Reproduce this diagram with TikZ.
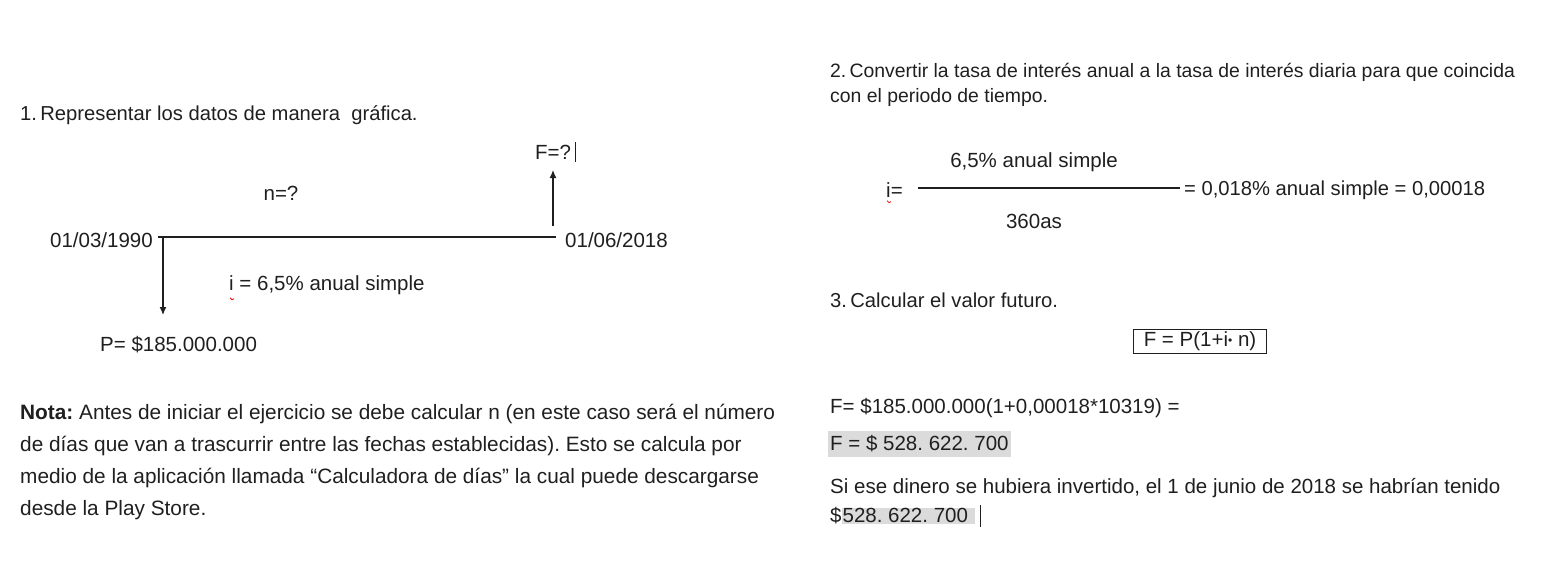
\documentclass[tikz,border=0pt]{standalone}
\usepackage{fontspec}
\setmainfont{Liberation Sans}
\usepackage{xcolor}
\usetikzlibrary{arrows, arrows.meta, positioning, calc}
\definecolor{inktext}{gray}{0.12}
\definecolor{markgray}{gray}{0.86}
\frenchspacing
\setlength{\fboxsep}{1pt}
\tikzstyle{arrow} = [line width=1.3pt,-{Latex[length=8pt,width=7pt]}]
\tikzstyle{txt} = [anchor=west, inner sep=0pt, text=inktext, font=\fontsize{20.5}{24}\selectfont]
\tikzstyle{small} = [anchor=west, inner sep=0pt, text=inktext, font=\fontsize{20.2}{25}\selectfont]

\begin{document}
\begin{tikzpicture}[x=1pt, y=-1pt]
\useasboundingbox (0,0) rectangle (1550,578);

% 1. grafica
\node[small] (title1) at (20,115) {1.\,Representar los datos de manera\ \ gráfica.};
\node[txt] (d1) [anchor=east] at (153,240) {01/03/1990};
\node[txt] (d2) at (565,240) {01/06/2018};
\coordinate (t0) at (158,237);
\coordinate (t1) at (556,237);
\draw[inktext, line width=1.3pt] (t0) -- (t1);
\node[txt] (fval) at (535,152) {F=?};
\draw[inktext] ($(fval.east)+(4,-10)$) -- ($(fval.east)+(4,10)$);
\coordinate (fup) at (553,226);
\draw[arrow, inktext] (fup) -- (553,170);
\node[txt] (nlbl) [anchor=center] at (281,193) {n=?};
\draw[arrow, inktext] ($(t0)+(5,0)$) -- (163,315);
\node[txt] (ilbl) at (229,285) {i = 6,5\% anual simple};
\draw[red, thick] ($(ilbl.south west)+(1,3)$) -- ++(2,2) -- ++(2,-1);
\node[txt] (plbl) at (100,345) {P= \$185.000.000};

% nota
\node[txt, align=left, font=\fontsize{20.8}{32}\selectfont] (nota) at (20,462)
  {\textbf{Nota:} Antes de iniciar el ejercicio se debe calcular n (en este caso será el número\\
   de días que van a trascurrir entre las fechas establecidas). Esto se calcula por\\
   medio de la aplicación llamada “Calculadora de días” la cual puede descargarse\\
   desde la Play Store.};

% 2. tasa diaria
\node[small, align=left, font=\fontsize{19.4}{25}\selectfont] (title2) at (830,85)
  {2.\,Convertir la tasa de interés anual a la tasa de interés diaria para que coincida\\
   con el periodo de tiempo.};
\node[txt] (ieq) at (886,190) {i=};
\draw[red, thick] ($(ieq.south west)+(1,3)$) -- ++(2,2) -- ++(2,-1);
\coordinate (fr0) at (918,188);
\coordinate (fr1) at (1180,188);
\draw[inktext, line width=1.6pt] (fr0) -- (fr1);
\node[txt] (num) [anchor=center] at (1034,162) {6,5\% anual simple};
\node[txt] (den) [anchor=center] at (1034,221) {360as};
\node[small] (res) at (1184,190) {= 0,018\% anual simple = 0,00018};

% 3. valor futuro
\node[small] (title3) at (830,300) {3.\,Calcular el valor futuro.};
\node[txt, draw=inktext, thick, inner xsep=10pt, minimum height=24pt, anchor=center] (formula) at (1200,341) {F = P(1+i\raisebox{2pt}{\fontsize{12}{12}\selectfont•} n)};
\node[txt] (calc) at (830,408) {F= \$185.000.000(1+0,00018*10319) =};
\node[txt, fill=markgray, inner xsep=2pt, inner ysep=5pt] (fres) at (828,444) {F = \$ 528. 622. 700};
\node[txt] (concl) at (830,488) {Si ese dinero se hubiera invertido, el 1 de junio de 2018 se habrían tenido};
\node[txt] (concl2) at (830,516) {\$\colorbox{markgray}{528. 622. 700\ }};
\draw[inktext] ($(concl2.east)+(5,-11)$) -- ($(concl2.east)+(5,11)$);
\end{tikzpicture}
\end{document}
